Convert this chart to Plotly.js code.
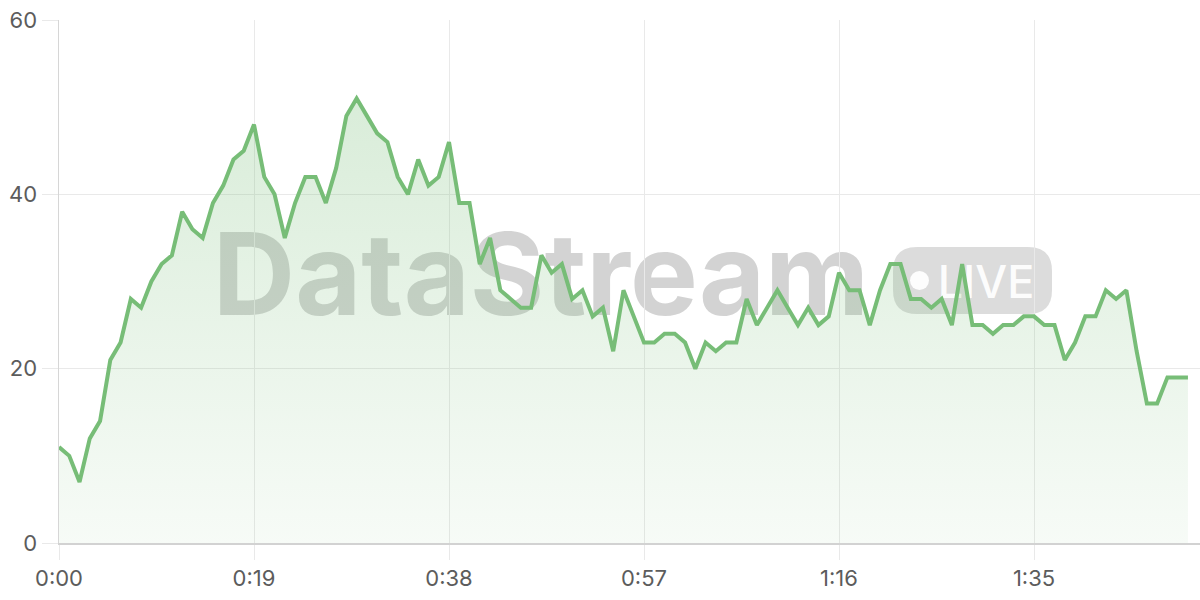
<!DOCTYPE html>
<html>
<head>
<meta charset="utf-8">
<script src="https://cdn.plot.ly/plotly-3.0.1.min.js"></script>
<style>
html,body{margin:0;padding:0;background:#fff;}
#chart{width:1200px;height:600px;}
</style>
</head>
<body>
<div id="chart"></div>
<script>
// Elapsed time in seconds (one sample per second)
const seconds = [
  0,1,2,3,4,5,6,7,8,9,10,11,12,13,14,15,16,17,18,19,
  20,21,22,23,24,25,26,27,28,29,30,31,32,33,34,35,36,37,38,39,
  40,41,42,43,44,45,46,47,48,49,50,51,52,53,54,55,56,57,58,59,
  60,61,62,63,64,65,66,67,68,69,70,71,72,73,74,75,76,77,78,79,
  80,81,82,83,84,85,86,87,88,89,90,91,92,93,94,95,96,97,98,99,
  100,101,102,103,104,105,106,107,108,109,110
];
// Stream values
const values = [
  11,10,7,12,14,21,23,28,27,30,32,33,38,36,35,39,41,44,45,48,
  42,40,35,39,42,42,39,43,49,51,49,47,46,42,40,44,41,42,46,39,
  39,32,35,29,28,27,27,33,31,32,28,29,26,27,22,29,26,23,23,24,
  24,23,20,23,22,23,23,28,25,27,29,27,25,27,25,26,31,29,29,25,
  29,32,32,28,28,27,28,25,32,25,25,24,25,25,26,26,25,25,21,23,
  26,26,29,28,29,22,16,16,19,19,19
];
// Axis ticks
const xTickVals = [0,19,38,57,76,95];
const xTickText = ['0:00','0:19','0:38','0:57','1:16','1:35'];
const yTickVals = [0,20,40,60];

const W = 1200, H = 600;
const M = {l:59, r:0, t:20, b:57};
const PW = W - M.l - M.r, PH = H - M.t - M.b;
const px = v => (v - M.l) / PW;
const py = v => (H - M.b - v) / PH;

function roundRect(x0, y0, x1, y1, r) {
  const X0 = px(x0), X1 = px(x1), YT = py(y0), YB = py(y1);
  const rx = r / PW, ry = r / PH;
  return `M ${X0+rx},${YB} L ${X1-rx},${YB} Q ${X1},${YB} ${X1},${YB+ry} ` +
         `L ${X1},${YT-ry} Q ${X1},${YT} ${X1-rx},${YT} L ${X0+rx},${YT} ` +
         `Q ${X0},${YT} ${X0},${YT-ry} L ${X0},${YB+ry} Q ${X0},${YB} ${X0+rx},${YB} Z`;
}

const green = 'rgb(119,189,119)';

const trace = {
  x: seconds,
  y: values,
  type: 'scatter',
  mode: 'lines',
  line: {color: green, width: 4, shape: 'linear'},
  fill: 'tozeroy',
  fillgradient: {
    type: 'vertical',
    start: 0,
    stop: 51,
    colorscale: [[0, 'rgba(119,189,119,0.06)'], [1, 'rgba(119,189,119,0.28)']]
  },
  hoverinfo: 'skip'
};

const tickFont = {family: 'Inter, "Noto Sans", sans-serif', size: 22, color: '#5c5c5c'};

const layout = {
  width: W, height: H,
  margin: M,
  paper_bgcolor: '#ffffff',
  plot_bgcolor: '#ffffff',
  showlegend: false,
  xaxis: {
    range: [0, (W - M.l - M.r) / (195/19)],
    tickvals: xTickVals,
    ticktext: xTickText,
    showgrid: true,
    gridcolor: '#e9e9e9',
    gridwidth: 1,
    zeroline: false,
    showline: true,
    linecolor: '#d2d2d2',
    linewidth: 1.5,
    ticks: 'outside',
    ticklen: 15,
    tickcolor: '#e9e9e9',
    tickfont: tickFont,
    fixedrange: true
  },
  yaxis: {
    range: [0, 60],
    tickvals: yTickVals,
    showgrid: true,
    gridcolor: '#e9e9e9',
    gridwidth: 1,
    zeroline: false,
    showline: true,
    linecolor: '#d6d6d6',
    linewidth: 1.5,
    ticks: 'outside',
    ticklen: 16,
    tickcolor: '#e9e9e9',
    tickfont: tickFont,
    fixedrange: true
  },
  shapes: [
    {
      type: 'rect', xref: 'paper', yref: 'paper', layer: 'between',
      x0: px(200), x1: px(882), y0: py(318), y1: py(220),
      line: {width: 0}, fillcolor: 'rgba(0,0,0,0)',
      label: {
        text: 'DataStream',
        textposition: 'middle center',
        font: {family: 'Inter, "Noto Sans", sans-serif', size: 114, color: 'rgba(120,120,120,0.33)', weight: 700}
      }
    },
    {
      type: 'path', xref: 'paper', yref: 'paper', layer: 'between',
      path: roundRect(893, 247, 1052, 314, 24),
      line: {width: 0}, fillcolor: 'rgba(120,120,120,0.26)'
    },
    {
      type: 'circle', xref: 'paper', yref: 'paper', layer: 'between',
      x0: px(910), x1: px(929), y0: py(290), y1: py(271),
      line: {width: 0}, fillcolor: 'rgba(255,255,255,0.92)'
    },
    {
      type: 'rect', xref: 'paper', yref: 'paper', layer: 'between',
      x0: px(934), x1: px(1038), y0: py(314), y1: py(247),
      line: {width: 0}, fillcolor: 'rgba(0,0,0,0)',
      label: {
        text: 'LIVE',
        textposition: 'middle center',
        font: {family: 'Inter, "Noto Sans", sans-serif', size: 45, color: 'rgba(255,255,255,0.95)', weight: 500}
      }
    }
  ]
};

Plotly.newPlot('chart', [trace], layout, {displayModeBar: false, staticPlot: true});
</script>
</body>
</html>
